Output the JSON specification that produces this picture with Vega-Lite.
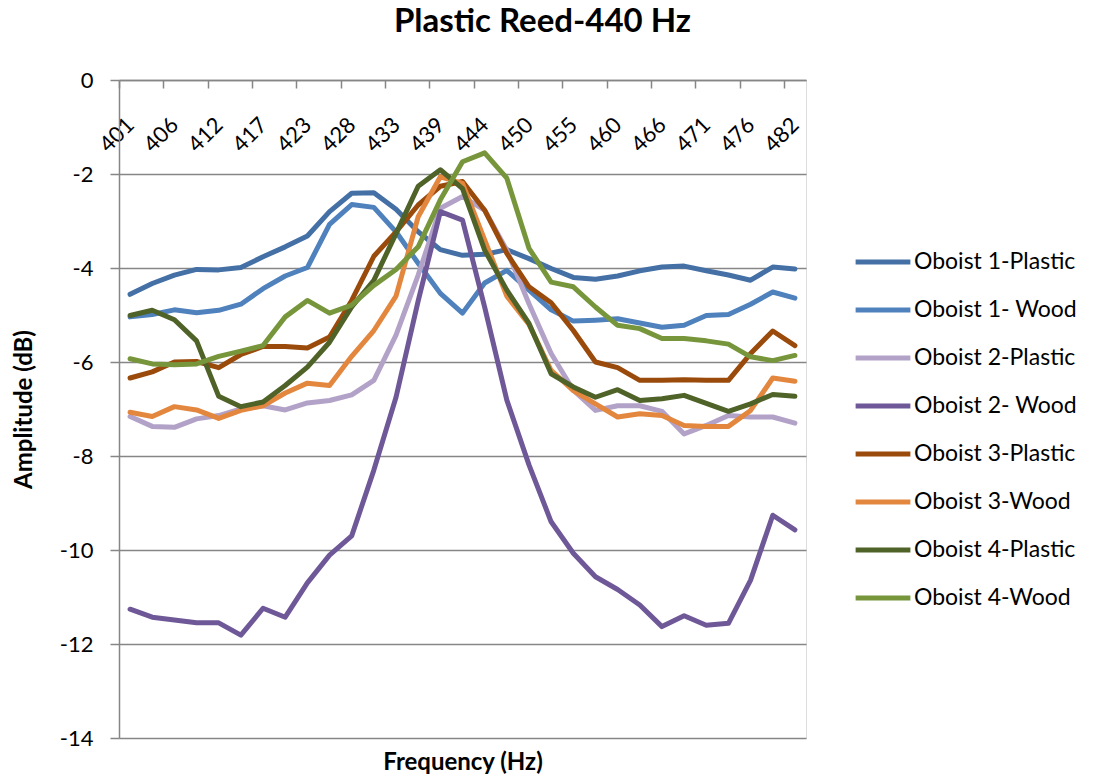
{
 "$schema": "https://vega.github.io/schema/vega-lite/v6.json",
 "width": 687,
 "height": 658,
 "autosize": {"type": "none"},
 "padding": {"left": 119, "top": 80, "right": 294, "bottom": 37},
 "background": "white",
 "title": {"text": "Plastic Reed-440 Hz", "font": "Lato", "fontSize": 33, "fontWeight": "bold", "color": "#000000", "anchor": "middle", "dx": 80, "baseline": "alphabetic", "offset": 4},
 "data": {"values": [
  {"f":401,"Oboist 1-Plastic":-4.56,"Oboist 1- Wood":-5.04,"Oboist 2-Plastic":-7.16,"Oboist 2- Wood":-11.26,"Oboist 3-Plastic":-6.34,"Oboist 3-Wood":-7.07,"Oboist 4-Plastic":-5.01,"Oboist 4-Wood":-5.93},
  {"f":404,"Oboist 1-Plastic":-4.33,"Oboist 1- Wood":-4.99,"Oboist 2-Plastic":-7.37,"Oboist 2- Wood":-11.43,"Oboist 3-Plastic":-6.21,"Oboist 3-Wood":-7.16,"Oboist 4-Plastic":-4.90,"Oboist 4-Wood":-6.04},
  {"f":406,"Oboist 1-Plastic":-4.15,"Oboist 1- Wood":-4.89,"Oboist 2-Plastic":-7.39,"Oboist 2- Wood":-11.49,"Oboist 3-Plastic":-6.00,"Oboist 3-Wood":-6.95,"Oboist 4-Plastic":-5.10,"Oboist 4-Wood":-6.06},
  {"f":409,"Oboist 1-Plastic":-4.03,"Oboist 1- Wood":-4.95,"Oboist 2-Plastic":-7.21,"Oboist 2- Wood":-11.55,"Oboist 3-Plastic":-5.99,"Oboist 3-Wood":-7.02,"Oboist 4-Plastic":-5.55,"Oboist 4-Wood":-6.04},
  {"f":412,"Oboist 1-Plastic":-4.04,"Oboist 1- Wood":-4.90,"Oboist 2-Plastic":-7.14,"Oboist 2- Wood":-11.55,"Oboist 3-Plastic":-6.12,"Oboist 3-Wood":-7.20,"Oboist 4-Plastic":-6.73,"Oboist 4-Wood":-5.88},
  {"f":415,"Oboist 1-Plastic":-3.99,"Oboist 1- Wood":-4.77,"Oboist 2-Plastic":-7.00,"Oboist 2- Wood":-11.81,"Oboist 3-Plastic":-5.84,"Oboist 3-Wood":-7.03,"Oboist 4-Plastic":-6.95,"Oboist 4-Wood":-5.77},
  {"f":417,"Oboist 1-Plastic":-3.76,"Oboist 1- Wood":-4.44,"Oboist 2-Plastic":-6.93,"Oboist 2- Wood":-11.24,"Oboist 3-Plastic":-5.67,"Oboist 3-Wood":-6.93,"Oboist 4-Plastic":-6.85,"Oboist 4-Wood":-5.65},
  {"f":420,"Oboist 1-Plastic":-3.55,"Oboist 1- Wood":-4.17,"Oboist 2-Plastic":-7.02,"Oboist 2- Wood":-11.43,"Oboist 3-Plastic":-5.67,"Oboist 3-Wood":-6.66,"Oboist 4-Plastic":-6.50,"Oboist 4-Wood":-5.04},
  {"f":423,"Oboist 1-Plastic":-3.32,"Oboist 1- Wood":-3.99,"Oboist 2-Plastic":-6.87,"Oboist 2- Wood":-10.70,"Oboist 3-Plastic":-5.70,"Oboist 3-Wood":-6.45,"Oboist 4-Plastic":-6.11,"Oboist 4-Wood":-4.69},
  {"f":425,"Oboist 1-Plastic":-2.80,"Oboist 1- Wood":-3.07,"Oboist 2-Plastic":-6.82,"Oboist 2- Wood":-10.11,"Oboist 3-Plastic":-5.47,"Oboist 3-Wood":-6.50,"Oboist 4-Plastic":-5.58,"Oboist 4-Wood":-4.96},
  {"f":428,"Oboist 1-Plastic":-2.41,"Oboist 1- Wood":-2.65,"Oboist 2-Plastic":-6.70,"Oboist 2- Wood":-9.70,"Oboist 3-Plastic":-4.69,"Oboist 3-Wood":-5.88,"Oboist 4-Plastic":-4.83,"Oboist 4-Wood":-4.79},
  {"f":431,"Oboist 1-Plastic":-2.40,"Oboist 1- Wood":-2.71,"Oboist 2-Plastic":-6.39,"Oboist 2- Wood":-8.30,"Oboist 3-Plastic":-3.75,"Oboist 3-Wood":-5.33,"Oboist 4-Plastic":-4.26,"Oboist 4-Wood":-4.37},
  {"f":433,"Oboist 1-Plastic":-2.75,"Oboist 1- Wood":-3.23,"Oboist 2-Plastic":-5.43,"Oboist 2- Wood":-6.75,"Oboist 3-Plastic":-3.23,"Oboist 3-Wood":-4.60,"Oboist 4-Plastic":-3.27,"Oboist 4-Wood":-4.03},
  {"f":436,"Oboist 1-Plastic":-3.23,"Oboist 1- Wood":-3.90,"Oboist 2-Plastic":-4.15,"Oboist 2- Wood":-4.70,"Oboist 3-Plastic":-2.66,"Oboist 3-Wood":-2.91,"Oboist 4-Plastic":-2.26,"Oboist 4-Wood":-3.55},
  {"f":439,"Oboist 1-Plastic":-3.61,"Oboist 1- Wood":-4.54,"Oboist 2-Plastic":-2.73,"Oboist 2- Wood":-2.80,"Oboist 3-Plastic":-2.26,"Oboist 3-Wood":-2.06,"Oboist 4-Plastic":-1.91,"Oboist 4-Wood":-2.55},
  {"f":441,"Oboist 1-Plastic":-3.73,"Oboist 1- Wood":-4.96,"Oboist 2-Plastic":-2.48,"Oboist 2- Wood":-2.98,"Oboist 3-Plastic":-2.16,"Oboist 3-Wood":-2.20,"Oboist 4-Plastic":-2.31,"Oboist 4-Wood":-1.74},
  {"f":444,"Oboist 1-Plastic":-3.71,"Oboist 1- Wood":-4.32,"Oboist 2-Plastic":-2.77,"Oboist 2- Wood":-4.83,"Oboist 3-Plastic":-2.77,"Oboist 3-Wood":-3.40,"Oboist 4-Plastic":-3.62,"Oboist 4-Wood":-1.55},
  {"f":447,"Oboist 1-Plastic":-3.61,"Oboist 1- Wood":-4.05,"Oboist 2-Plastic":-3.62,"Oboist 2- Wood":-6.81,"Oboist 3-Plastic":-3.69,"Oboist 3-Wood":-4.60,"Oboist 4-Plastic":-4.47,"Oboist 4-Wood":-2.09},
  {"f":450,"Oboist 1-Plastic":-3.80,"Oboist 1- Wood":-4.47,"Oboist 2-Plastic":-4.76,"Oboist 2- Wood":-8.19,"Oboist 3-Plastic":-4.40,"Oboist 3-Wood":-5.20,"Oboist 4-Plastic":-5.18,"Oboist 4-Wood":-3.58},
  {"f":452,"Oboist 1-Plastic":-4.01,"Oboist 1- Wood":-4.89,"Oboist 2-Plastic":-5.82,"Oboist 2- Wood":-9.40,"Oboist 3-Plastic":-4.74,"Oboist 3-Wood":-6.18,"Oboist 4-Plastic":-6.25,"Oboist 4-Wood":-4.30},
  {"f":455,"Oboist 1-Plastic":-4.20,"Oboist 1- Wood":-5.13,"Oboist 2-Plastic":-6.60,"Oboist 2- Wood":-10.07,"Oboist 3-Plastic":-5.33,"Oboist 3-Wood":-6.61,"Oboist 4-Plastic":-6.53,"Oboist 4-Wood":-4.40},
  {"f":458,"Oboist 1-Plastic":-4.24,"Oboist 1- Wood":-5.11,"Oboist 2-Plastic":-7.03,"Oboist 2- Wood":-10.57,"Oboist 3-Plastic":-6.00,"Oboist 3-Wood":-6.89,"Oboist 4-Plastic":-6.75,"Oboist 4-Wood":-4.83},
  {"f":460,"Oboist 1-Plastic":-4.17,"Oboist 1- Wood":-5.08,"Oboist 2-Plastic":-6.93,"Oboist 2- Wood":-10.84,"Oboist 3-Plastic":-6.12,"Oboist 3-Wood":-7.17,"Oboist 4-Plastic":-6.59,"Oboist 4-Wood":-5.22},
  {"f":463,"Oboist 1-Plastic":-4.06,"Oboist 1- Wood":-5.17,"Oboist 2-Plastic":-6.93,"Oboist 2- Wood":-11.17,"Oboist 3-Plastic":-6.39,"Oboist 3-Wood":-7.10,"Oboist 4-Plastic":-6.82,"Oboist 4-Wood":-5.29},
  {"f":466,"Oboist 1-Plastic":-3.98,"Oboist 1- Wood":-5.26,"Oboist 2-Plastic":-7.05,"Oboist 2- Wood":-11.63,"Oboist 3-Plastic":-6.39,"Oboist 3-Wood":-7.14,"Oboist 4-Plastic":-6.78,"Oboist 4-Wood":-5.50},
  {"f":468,"Oboist 1-Plastic":-3.96,"Oboist 1- Wood":-5.22,"Oboist 2-Plastic":-7.53,"Oboist 2- Wood":-11.40,"Oboist 3-Plastic":-6.38,"Oboist 3-Wood":-7.35,"Oboist 4-Plastic":-6.71,"Oboist 4-Wood":-5.50},
  {"f":471,"Oboist 1-Plastic":-4.06,"Oboist 1- Wood":-5.01,"Oboist 2-Plastic":-7.35,"Oboist 2- Wood":-11.60,"Oboist 3-Plastic":-6.39,"Oboist 3-Wood":-7.37,"Oboist 4-Plastic":-6.88,"Oboist 4-Wood":-5.55},
  {"f":474,"Oboist 1-Plastic":-4.15,"Oboist 1- Wood":-4.99,"Oboist 2-Plastic":-7.14,"Oboist 2- Wood":-11.56,"Oboist 3-Plastic":-6.39,"Oboist 3-Wood":-7.37,"Oboist 4-Plastic":-7.05,"Oboist 4-Wood":-5.62},
  {"f":476,"Oboist 1-Plastic":-4.26,"Oboist 1- Wood":-4.77,"Oboist 2-Plastic":-7.17,"Oboist 2- Wood":-10.64,"Oboist 3-Plastic":-5.82,"Oboist 3-Wood":-7.03,"Oboist 4-Plastic":-6.89,"Oboist 4-Wood":-5.89},
  {"f":479,"Oboist 1-Plastic":-3.98,"Oboist 1- Wood":-4.51,"Oboist 2-Plastic":-7.17,"Oboist 2- Wood":-9.26,"Oboist 3-Plastic":-5.34,"Oboist 3-Wood":-6.34,"Oboist 4-Plastic":-6.69,"Oboist 4-Wood":-5.97},
  {"f":482,"Oboist 1-Plastic":-4.02,"Oboist 1- Wood":-4.64,"Oboist 2-Plastic":-7.30,"Oboist 2- Wood":-9.57,"Oboist 3-Plastic":-5.65,"Oboist 3-Wood":-6.41,"Oboist 4-Plastic":-6.73,"Oboist 4-Wood":-5.86}
 ]},
 "transform": [{"fold": ["Oboist 1-Plastic","Oboist 1- Wood","Oboist 2-Plastic","Oboist 2- Wood","Oboist 3-Plastic","Oboist 3-Wood","Oboist 4-Plastic","Oboist 4-Wood"], "as": ["series","amp"]}],
 "mark": {"type": "line", "strokeWidth": 5, "strokeJoin": "round", "strokeCap": "round"},
 "encoding": {
  "x": {"field": "f", "type": "ordinal",
   "scale": {"type": "point", "padding": 0.5},
   "axis": {"orient": "bottom", "offset": -658, "values": [401,406,412,417,423,428,433,439,444,450,455,460,466,471,476,482],
    "tickOffset": -11.08, "labelOffset": 11.08, "labelAngle": -45, "labelAlign": "right", "labelBaseline": "middle", "labelPadding": 33,
    "tickSize": 8, "tickColor": "#868686", "tickWidth": 1.5, "domainColor": "#868686", "domainWidth": 1.5,
    "labelFont": "Lato", "labelFontSize": 22, "labelColor": "#000000", "grid": false,
    "title": "Frequency (Hz)", "titleFont": "Lato", "titleFontSize": 24, "titleFontWeight": "bold", "titleColor": "#000000", "titleY": 682, "titleBaseline": "middle"}},
  "y": {"field": "amp", "type": "quantitative",
   "scale": {"domain": [-14, 0], "nice": false, "zero": false},
   "axis": {"values": [-14,-12,-10,-8,-6,-4,-2,0], "grid": true, "gridColor": "#868686", "gridWidth": 1.5,
    "labelExpr": "datum.value < 0 ? '-' + abs(datum.value) : '' + datum.value",
    "domainColor": "#868686", "domainWidth": 1.5, "tickColor": "#868686", "tickSize": 9, "tickWidth": 1.5,
    "labelFont": "Lato", "labelFontSize": 22, "labelColor": "#000000", "labelPadding": 17,
    "title": "Amplitude (dB)", "titleFont": "Lato", "titleFontSize": 24, "titleFontWeight": "bold", "titleColor": "#000000",
    "titleX": -95, "titleY": 329, "titleAngle": -90, "titleAlign": "center", "titleBaseline": "middle"}},
  "color": {"field": "series", "type": "nominal",
   "scale": {"domain": ["Oboist 1-Plastic","Oboist 1- Wood","Oboist 2-Plastic","Oboist 2- Wood","Oboist 3-Plastic","Oboist 3-Wood","Oboist 4-Plastic","Oboist 4-Wood"],
    "range": ["#4470A6","#4F81BD","#B3A2C7","#6F5897","#9A4A0A","#E3873E","#4F6228","#77963C"]},
   "legend": {"orient": "none", "legendX": 734, "legendY": 152, "title": null, "symbolType": "stroke", "symbolSize": 3000, "symbolStrokeWidth": 5,
    "labelFont": "Lato", "labelFontSize": 23, "labelColor": "#000000", "labelLimit": 300, "rowPadding": 6, "labelOffset": 1}}
 }
}
